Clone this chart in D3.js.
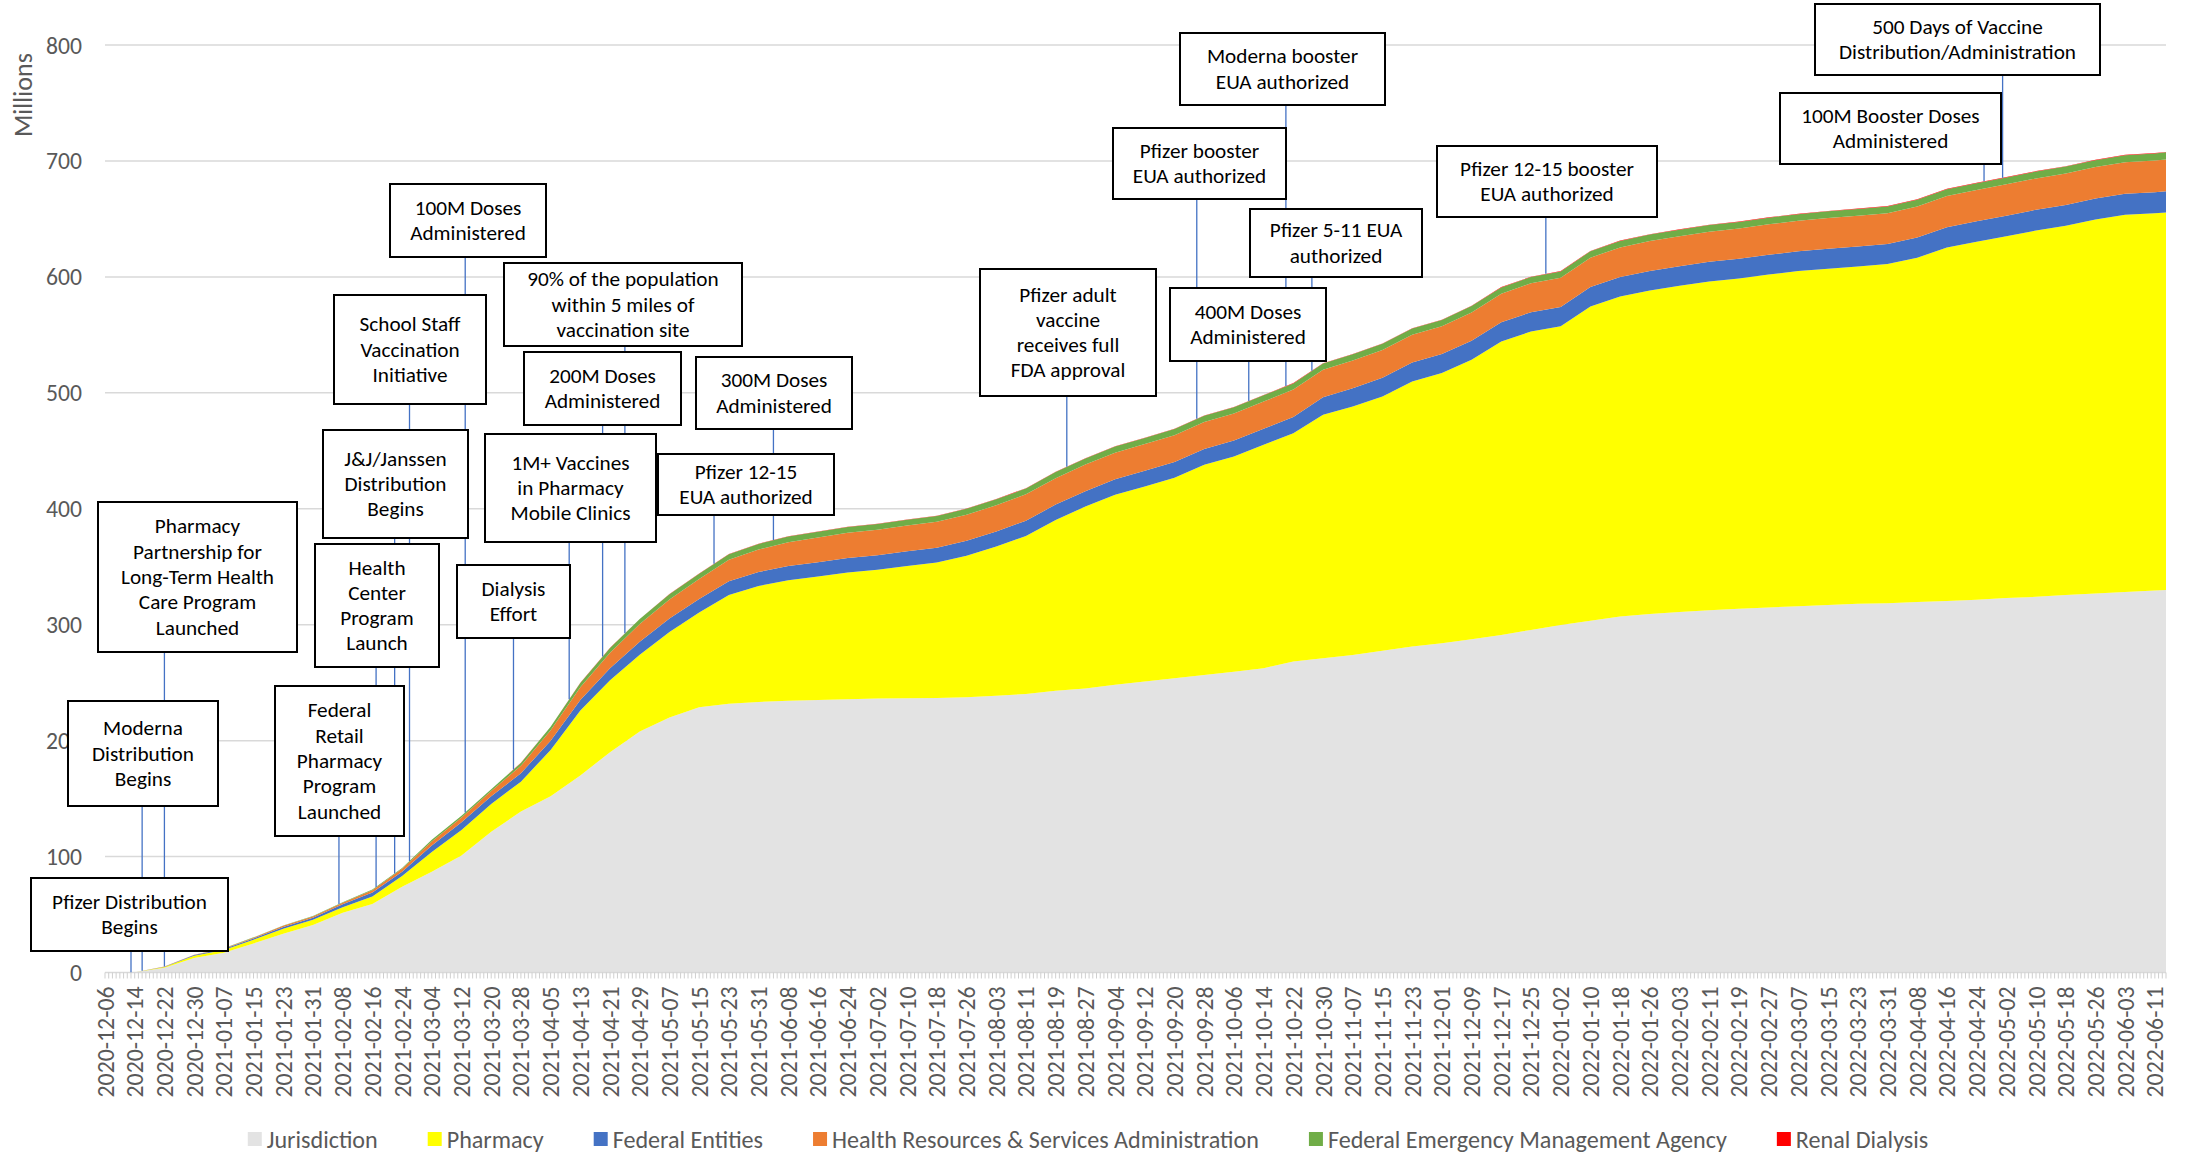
<!DOCTYPE html>
<html>
<head>
<meta charset="utf-8">
<script src="https://cdn.jsdelivr.net/npm/d3@7"></script>
<style>
  html, body { margin: 0; padding: 0; background: #ffffff; }
  svg { display: block; }
</style>
</head>
<body>
<svg id="chart" width="2185" height="1152"></svg>
<script>
// ---------------- DATA ----------------
const tickLabels = [
  "2020-12-06","2020-12-14","2020-12-22","2020-12-30","2021-01-07","2021-01-15","2021-01-23","2021-01-31",
  "2021-02-08","2021-02-16","2021-02-24","2021-03-04","2021-03-12","2021-03-20","2021-03-28","2021-04-05",
  "2021-04-13","2021-04-21","2021-04-29","2021-05-07","2021-05-15","2021-05-23","2021-05-31","2021-06-08",
  "2021-06-16","2021-06-24","2021-07-02","2021-07-10","2021-07-18","2021-07-26","2021-08-03","2021-08-11",
  "2021-08-19","2021-08-27","2021-09-04","2021-09-12","2021-09-20","2021-09-28","2021-10-06","2021-10-14",
  "2021-10-22","2021-10-30","2021-11-07","2021-11-15","2021-11-23","2021-12-01","2021-12-09","2021-12-17",
  "2021-12-25","2022-01-02","2022-01-10","2022-01-18","2022-01-26","2022-02-03","2022-02-11","2022-02-19",
  "2022-02-27","2022-03-07","2022-03-15","2022-03-23","2022-03-31","2022-04-08","2022-04-16","2022-04-24",
  "2022-05-02","2022-05-10","2022-05-18","2022-05-26","2022-06-03","2022-06-11"
];
const lastDate = "2022-06-14";
const sampleDates = [...tickLabels, lastDate];

// values in millions, read at each sample date
const jurisdiction = [
  0,0.3,4,12.5,17,25,33.5,41,51.6,59,
  74,87,101,121.5,138.8,152,170,190,207.8,219.9,
  228.8,231.9,233.4,234.5,235.1,235.7,236.3,236.6,236.8,237.4,
  238.6,240.3,243.1,244.9,248.1,250.9,253.8,256.7,259.5,262.5,
  268.2,271.1,273.9,277.6,281.1,284,287.5,291.2,295.5,299.8,
  303.5,307,309.3,311,312.5,313.7,314.8,316,317,318,
  318.5,319.5,320.5,321.5,323,324,325.5,327,328.3,329.5,
  330
];
const pharmacy = [
  0,0,0.8,2,2.5,3.3,4.3,4.5,4.7,6.5,
  9.3,17,22,23.9,25.8,40,56,62,66.2,73.9,
  81.7,93.8,100,103.9,106.4,109.3,111,114.1,116.8,122,
  128.8,136.3,147.3,157,163.9,168.3,172.9,181.2,185.5,192.6,
  197,209.9,214.3,219.2,228.7,233,241,253.1,257.4,257.6,
  271,276.1,279,281.3,283.5,284.9,287.2,289,290.1,291,
  292.5,297,304.8,308.8,312,316,318.5,322.5,325.2,325.3,
  325.6
];
const federalEntities = [
  0,0,0.2,0.5,0.8,1,1.5,1.8,2.5,3.5,
  3.7,5.5,6.5,6.6,7.2,8,9,10.5,11.2,11.5,
  11.6,11.8,12,12.2,12.3,12.5,12.6,12.7,12.8,12.9,
  13,13.1,13.2,13.3,13.4,13.5,13.6,13.7,13.8,13.9,
  14,15.2,15.8,16.2,16.3,16.4,16.5,16.5,16.6,16.6,
  16.7,16.7,16.8,16.9,17,17,17.1,17.1,17.2,17.3,
  17.3,17.5,17.6,17.7,17.8,17.9,18,18,18.1,18.2,
  18.2
];
const hrsa = [
  0,0,0.1,0.3,0.5,0.7,1,1.1,1.3,2,
  2.4,3.6,4.2,4.5,6.5,9,11,13.2,15.3,16.4,
  17.2,18.5,19.4,20.6,21.3,21.7,22,22.2,22.4,22.5,
  22.6,22.7,22.8,22.9,23,23.1,23.2,23.3,23.4,23.5,
  23.6,23.7,23.8,23.9,23.9,24,24.3,24.6,24.9,25.2,
  25.4,25.6,25.8,25.9,26,26.1,26.2,26.3,26.4,26.5,
  26.6,26.7,26.8,26.9,27,27,27.1,27.2,27.3,27.4,
  27.5
];
const fema = [
  0,0,0.1,0.1,0.2,0.3,0.3,0.3,0.4,0.5,
  0.7,1.3,1.4,1.5,2.5,3,3.8,4.3,4.4,4.6,
  4.7,4.8,4.9,4.9,5,5,5,5,5,5.1,
  5.1,5.1,5.2,5.2,5.2,5.2,5.3,5.3,5.3,5.3,
  5.3,5.4,5.4,5.4,5.4,5.4,5.5,5.5,5.5,5.5,
  5.5,5.6,5.6,5.6,5.7,5.7,5.7,5.7,5.8,5.8,
  5.8,5.8,5.9,5.9,5.9,6,6,6,6.1,6.1,
  6.1
];
const renalDialysis = [
  0,0,0,0,0,0,0,0,0,0,
  0,0,0,0,0.01,0.03,0.05,0.08,0.1,0.12,
  0.14,0.15,0.16,0.17,0.18,0.19,0.2,0.2,0.21,0.21,
  0.22,0.22,0.23,0.23,0.24,0.24,0.25,0.25,0.26,0.26,
  0.27,0.27,0.28,0.28,0.29,0.29,0.3,0.3,0.3,0.31,
  0.31,0.31,0.32,0.32,0.32,0.33,0.33,0.33,0.34,0.34,
  0.34,0.35,0.35,0.35,0.36,0.36,0.36,0.37,0.37,0.37,
  0.37
];
const seriesNames = [
  "Jurisdiction", "Pharmacy", "Federal Entities",
  "Health Resources & Services Administration",
  "Federal Emergency Management Agency", "Renal Dialysis"
];
const yTickValues = [0, 100, 200, 300, 400, 500, 600, 700, 800];
const yAxisTitle = "Millions";

const eventDates = [
  "2020-12-13","2020-12-16","2020-12-22","2021-02-07","2021-02-17","2021-02-22",
  "2021-02-26","2021-03-13","2021-03-26","2021-04-10","2021-04-19","2021-04-25",
  "2021-05-19","2021-06-04","2021-08-22","2021-09-26","2021-10-10","2021-10-20",
  "2021-10-27","2021-12-29","2022-04-26","2022-05-01"
];
const eventTexts = [
  ["Pfizer Distribution","Begins"],
  ["Moderna","Distribution","Begins"],
  ["Pharmacy","Partnership for","Long-Term Health","Care Program","Launched"],
  ["Federal","Retail","Pharmacy","Program","Launched"],
  ["Health","Center","Program","Launch"],
  ["J&J/Janssen","Distribution","Begins"],
  ["School Staff","Vaccination","Initiative"],
  ["100M Doses","Administered"],
  ["Dialysis","Effort"],
  ["1M+ Vaccines","in Pharmacy","Mobile Clinics"],
  ["200M Doses","Administered"],
  ["90% of the population","within 5 miles of","vaccination site"],
  ["Pfizer 12-15","EUA authorized"],
  ["300M Doses","Administered"],
  ["Pfizer adult","vaccine","receives full","FDA approval"],
  ["Pfizer booster","EUA authorized"],
  ["400M Doses","Administered"],
  ["Moderna booster","EUA authorized"],
  ["Pfizer 5-11 EUA","authorized"],
  ["Pfizer 12-15 booster","EUA authorized"],
  ["100M Booster Doses","Administered"],
  ["500 Days of Vaccine","Distribution/Administration"]
];

// ---------------- LAYOUT / STYLE ----------------
const plot = { left: 105, right: 2166, top: 45, bottom: 972.5 };
const colors = ["#E3E3E3", "#FFFF00", "#4472C4", "#ED7D31", "#70AD47", "#FF0000"];
const FONT = "Carlito, Lato, 'Open Sans', sans-serif";
const axisColor = "#595959";
const gridColor = "#D9D9D9";
// annotation boxes: [left, top, right, bottom] in px, same order as events
const boxLayout = [
  [31,878,228,951],[68,701,218,806],[98,502,297,652],[275,686,404,836],
  [315,544,439,667],[323,430,468,538],[334,295,486,404],[390,184,546,257],
  [457,565,570,638],[485,434,656,542],[524,352,681,425],[504,263,742,346],
  [658,454,834,515],[696,357,852,429],[980,269,1156,396],[1113,128,1286,199],
  [1170,288,1326,361],[1180,33,1385,105],[1250,209,1422,277],[1437,146,1657,217],
  [1780,93,2001,164],[1815,4,2100,75]
];

// ---------------- CHART ----------------
const svg = d3.select("#chart");
const parse = d3.utcParse("%Y-%m-%d");

function fitSize(text, targetWidth) {
  const t = svg.append("text").attr("font-family", FONT).attr("font-size", 100).text(text);
  const w = t.node().getComputedTextLength();
  t.remove();
  return 100 * targetWidth / w;
}
const tickFs = fitSize("2020-12-06", 111);
const yTickFs = fitSize("800", 36);
const legendFs = fitSize("Jurisdiction", 111);
const titleFs = fitSize("Millions", 84);
const annFs = fitSize("Pfizer Distribution", 155);

const rows = sampleDates.map((d, i) => ({
  date: parse(d),
  "Jurisdiction": jurisdiction[i],
  "Pharmacy": pharmacy[i],
  "Federal Entities": federalEntities[i],
  "Health Resources & Services Administration": hrsa[i],
  "Federal Emergency Management Agency": fema[i],
  "Renal Dialysis": renalDialysis[i]
}));

const x = d3.scaleUtc()
  .domain([parse(sampleDates[0]), parse(lastDate)])
  .range([plot.left, plot.right]);
const y = d3.scaleLinear().domain([0, 800]).range([plot.bottom, plot.top]);

// gridlines
svg.append("g").selectAll("line").data(yTickValues.filter(v => v > 0)).join("line")
  .attr("x1", plot.left).attr("x2", plot.right)
  .attr("y1", d => y(d)).attr("y2", d => y(d))
  .attr("stroke", gridColor).attr("stroke-width", 1.5);

// stacked areas
const stack = d3.stack().keys(seriesNames);
const layers = stack(rows);
const area = d3.area()
  .x(d => x(d.data.date))
  .y0(d => y(d[0]))
  .y1(d => y(d[1]));
svg.append("g").selectAll("path").data(layers).join("path")
  .attr("d", area)
  .attr("fill", (d, i) => colors[i]);

// x axis line + daily tick marks
const days = d3.utcDay.range(parse(sampleDates[0]), d3.utcDay.offset(parse(lastDate), 1));
const xAxisG = svg.append("g");
xAxisG.append("line")
  .attr("x1", plot.left).attr("x2", plot.right)
  .attr("y1", plot.bottom).attr("y2", plot.bottom)
  .attr("stroke", gridColor).attr("stroke-width", 1.5);
xAxisG.selectAll("line.tk").data(days).join("line").attr("class", "tk")
  .attr("x1", d => x(d)).attr("x2", d => x(d))
  .attr("y1", plot.bottom).attr("y2", plot.bottom + 6)
  .attr("stroke", "#CFCFCF").attr("stroke-width", 1);

// x tick labels (rotated)
xAxisG.selectAll("text").data(tickLabels).join("text")
  .attr("transform", d => `translate(${x(parse(d))},${plot.bottom + 14}) rotate(-90)`)
  .attr("text-anchor", "end")
  .attr("dominant-baseline", "central")
  .attr("font-family", FONT).attr("font-size", tickFs)
  .attr("fill", axisColor)
  .text(d => d);

// y tick labels
svg.append("g").selectAll("text").data(yTickValues).join("text")
  .attr("x", 82).attr("y", d => y(d))
  .attr("text-anchor", "end").attr("dominant-baseline", "central")
  .attr("font-family", FONT).attr("font-size", yTickFs)
  .attr("fill", axisColor)
  .text(d => d);

// y axis title
svg.append("text")
  .attr("transform", "translate(23,95) rotate(-90)")
  .attr("text-anchor", "middle").attr("dominant-baseline", "central")
  .attr("font-family", FONT).attr("font-size", titleFs)
  .attr("fill", axisColor)
  .text(yAxisTitle);

// total (top of stack) at a date, for leader line ends
const topLayer = layers[layers.length - 1];
function topAt(date) {
  const t = +date;
  for (let i = 0; i < topLayer.length - 1; i++) {
    const a = +topLayer[i].data.date, b = +topLayer[i + 1].data.date;
    if (t >= a && t <= b) {
      const f = (t - a) / (b - a);
      return topLayer[i][1] + f * (topLayer[i + 1][1] - topLayer[i][1]);
    }
  }
  return topLayer[topLayer.length - 1][1];
}

// leader lines
const annG = svg.append("g");
annG.selectAll("line").data(eventDates).join("line")
  .attr("x1", d => x(parse(d))).attr("x2", d => x(parse(d)))
  .attr("y1", (d, i) => boxLayout[i][3])
  .attr("y2", d => y(topAt(parse(d))))
  .attr("stroke", "#4472C4").attr("stroke-width", 1.3);

// boxes with text
const lineH = 25.3;
const boxG = annG.selectAll("g.box").data(eventTexts).join("g").attr("class", "box");
boxG.append("rect")
  .attr("x", (d, i) => boxLayout[i][0])
  .attr("y", (d, i) => boxLayout[i][1])
  .attr("width", (d, i) => boxLayout[i][2] - boxLayout[i][0])
  .attr("height", (d, i) => boxLayout[i][3] - boxLayout[i][1])
  .attr("fill", "#ffffff").attr("stroke", "#000000").attr("stroke-width", 2);
boxG.each(function (lines, i) {
  const b = boxLayout[i];
  const cx = (b[0] + b[2]) / 2, cy = (b[1] + b[3]) / 2;
  const g = d3.select(this);
  lines.forEach((ln, j) => {
    g.append("text")
      .attr("x", cx)
      .attr("y", cy + (j - (lines.length - 1) / 2) * lineH)
      .attr("text-anchor", "middle").attr("dominant-baseline", "central")
      .attr("font-family", FONT).attr("font-size", annFs)
      .attr("fill", "#000000")
      .text(ln);
  });
});

// legend
const legendG = svg.append("g");
const sq = 14, sqGap = 5, itemGap = 50, legendY = 1139;
const widths = seriesNames.map(n => {
  const t = svg.append("text").attr("font-family", FONT).attr("font-size", legendFs).text(n);
  const w = t.node().getComputedTextLength(); t.remove(); return w;
});
const total = d3.sum(widths) + seriesNames.length * (sq + sqGap) + (seriesNames.length - 1) * itemGap;
let lx = 1088 - total / 2;
seriesNames.forEach((n, i) => {
  legendG.append("rect").attr("x", lx).attr("y", legendY - sq / 2)
    .attr("width", sq).attr("height", sq).attr("fill", colors[i]);
  legendG.append("text").attr("x", lx + sq + sqGap).attr("y", legendY)
    .attr("dominant-baseline", "central")
    .attr("font-family", FONT).attr("font-size", legendFs)
    .attr("fill", axisColor).text(n);
  lx += sq + sqGap + widths[i] + itemGap;
});
</script>
</body>
</html>
